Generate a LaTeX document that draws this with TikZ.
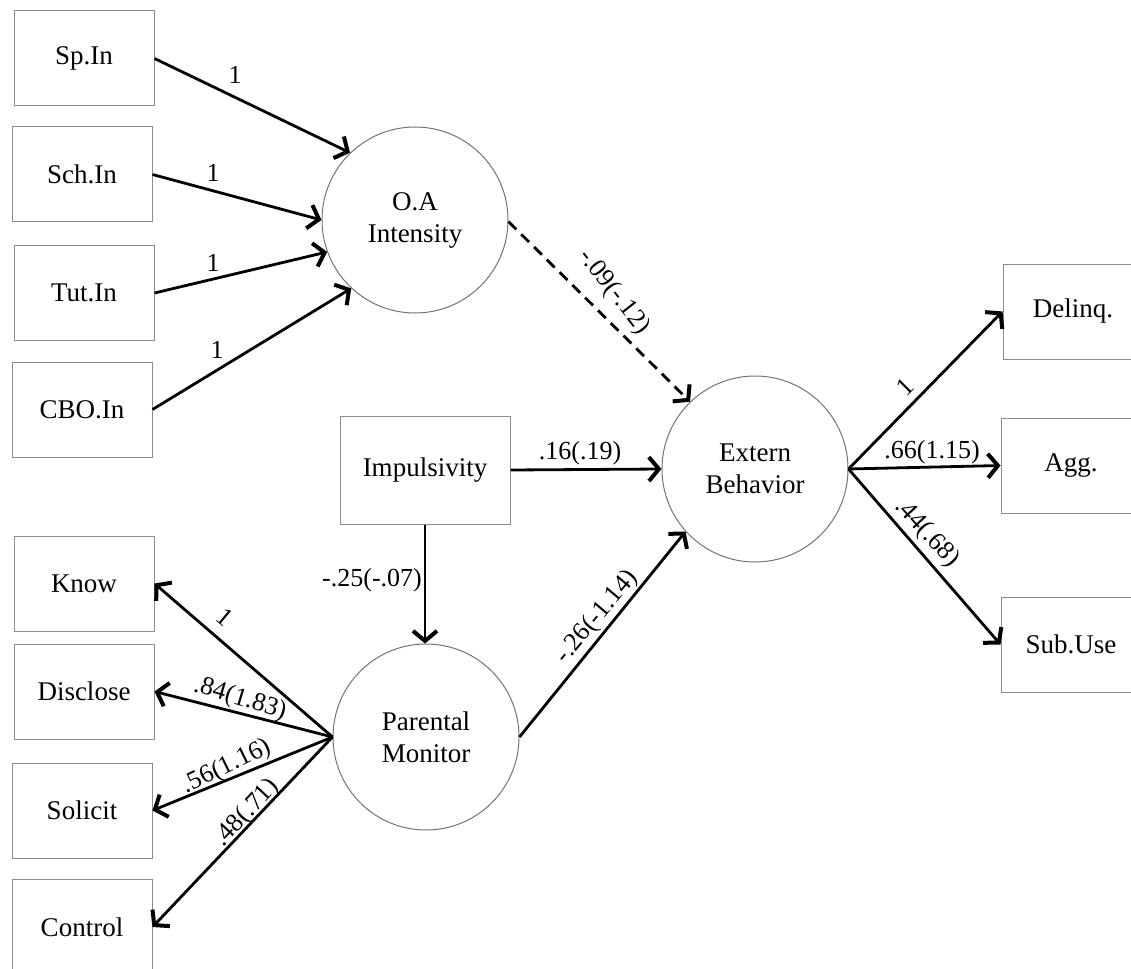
\documentclass[tikz,border=0pt]{standalone}
\usepackage{fontspec}
\setmainfont{Liberation Serif}
\usetikzlibrary{arrows.meta}
\begin{document}
\begin{tikzpicture}[x=1pt,y=-1pt,
  obs/.style={draw=black!45, line width=1pt, minimum width=140pt, minimum height=95pt, inner sep=0pt, font=\fontsize{27}{30}\selectfont},
  lat/.style={draw=black!55, line width=1pt, circle, minimum size=186pt, inner sep=0pt, align=center, font=\fontsize{27}{32}\selectfont},
  path/.style={line width=2.8pt, -{Straight Barb[length=10pt,width=24pt,line width=4pt]}},
  coef/.style={inner sep=1pt, font=\fontsize{26}{28}\selectfont}
]
\useasboundingbox (0,0) rectangle (1131,968);
% observed indicators
\node[obs] (sp)   at (84,58.5)   {Sp.In};
\node[obs] (sch)  at (82,174.5)  {Sch.In};
\node[obs] (tut)  at (84,293)    {Tut.In};
\node[obs] (cbo)  at (82,409.5)  {CBO.In};
\node[obs] (know) at (84,583.5)  {Know};
\node[obs] (disc) at (84,691.5)  {Disclose};
\node[obs] (sol)  at (82,810.5)  {Solicit};
\node[obs] (ctrl) at (82,927)    {Control};
\node[obs] (del)  at (1073,311.5) {Delinq.};
\node[obs] (agg)  at (1071,465.5) {Agg.};
\node[obs] (sub)  at (1071,644.5) {Sub.Use};
\node[obs, minimum width=170pt, minimum height=108pt] (imp) at (425,470) {Impulsivity};
% latent variables
\node[lat] (oa) at (415,220) {O.A\\Intensity};
\node[lat] (eb) at (755,469) {Extern\\Behavior};
\node[lat] (pm) at (426,737) {Parental\\Monitor};
% paths
\draw[path] (sp.east)  -- (oa.134);
\draw[path] (sch.east) -- (oa.180);
\draw[path] (tut.east) -- (oa.200);
\draw[path] (cbo.east) -- (oa.227);
\draw[path, dash pattern=on 11pt off 7pt] (oa.-1) -- (eb.134);
\draw[path] (imp.east) -- (eb.west);
\draw[path] (imp.south) -- (imp.south |- pm.north);
\draw[path] (pm.east) -- (eb.222);
\draw[path] (pm.west) -- (know.east);
\draw[path] (pm.west) -- (disc.east);
\draw[path] (pm.west) -- (sol.east);
\draw[path] (pm.west) -- (ctrl.east);
\draw[path] (eb.east) -- (del.west);
\draw[path] (eb.east) -- (agg.west);
\draw[path] (eb.east) -- (sub.west);
% coefficients
\node[coef] (c1)  at (235,75)  {1};
\node[coef] (c2)  at (213,173) {1};
\node[coef] (c3)  at (213,263) {1};
\node[coef] (c4)  at (217,350) {1};
\node[coef, rotate=-52] (c5) at (614,292) {-.09(-.12)};
\node[coef] (c6)  at (580,453) {.16(.19)};
\node[coef] (c7)  at (372,580) {-.25(-.07)};
\node[coef, rotate=50] (c8) at (597,617) {-.26(-1.14)};
\node[coef, rotate=-40] (c9) at (225,617) {1};
\node[coef, rotate=-17] (c10) at (240,699) {.84(1.83)};
\node[coef, rotate=26] (c11) at (227,767) {.56(1.16)};
\node[coef, rotate=47] (c12) at (247,813) {.48(.71)};
\node[coef, rotate=45] (c13) at (905,387) {1};
\node[coef] (c14) at (932,452) {.66(1.15)};
\node[coef, rotate=-47] (c15) at (927,533) {.44(.68)};
\end{tikzpicture}
\end{document}
